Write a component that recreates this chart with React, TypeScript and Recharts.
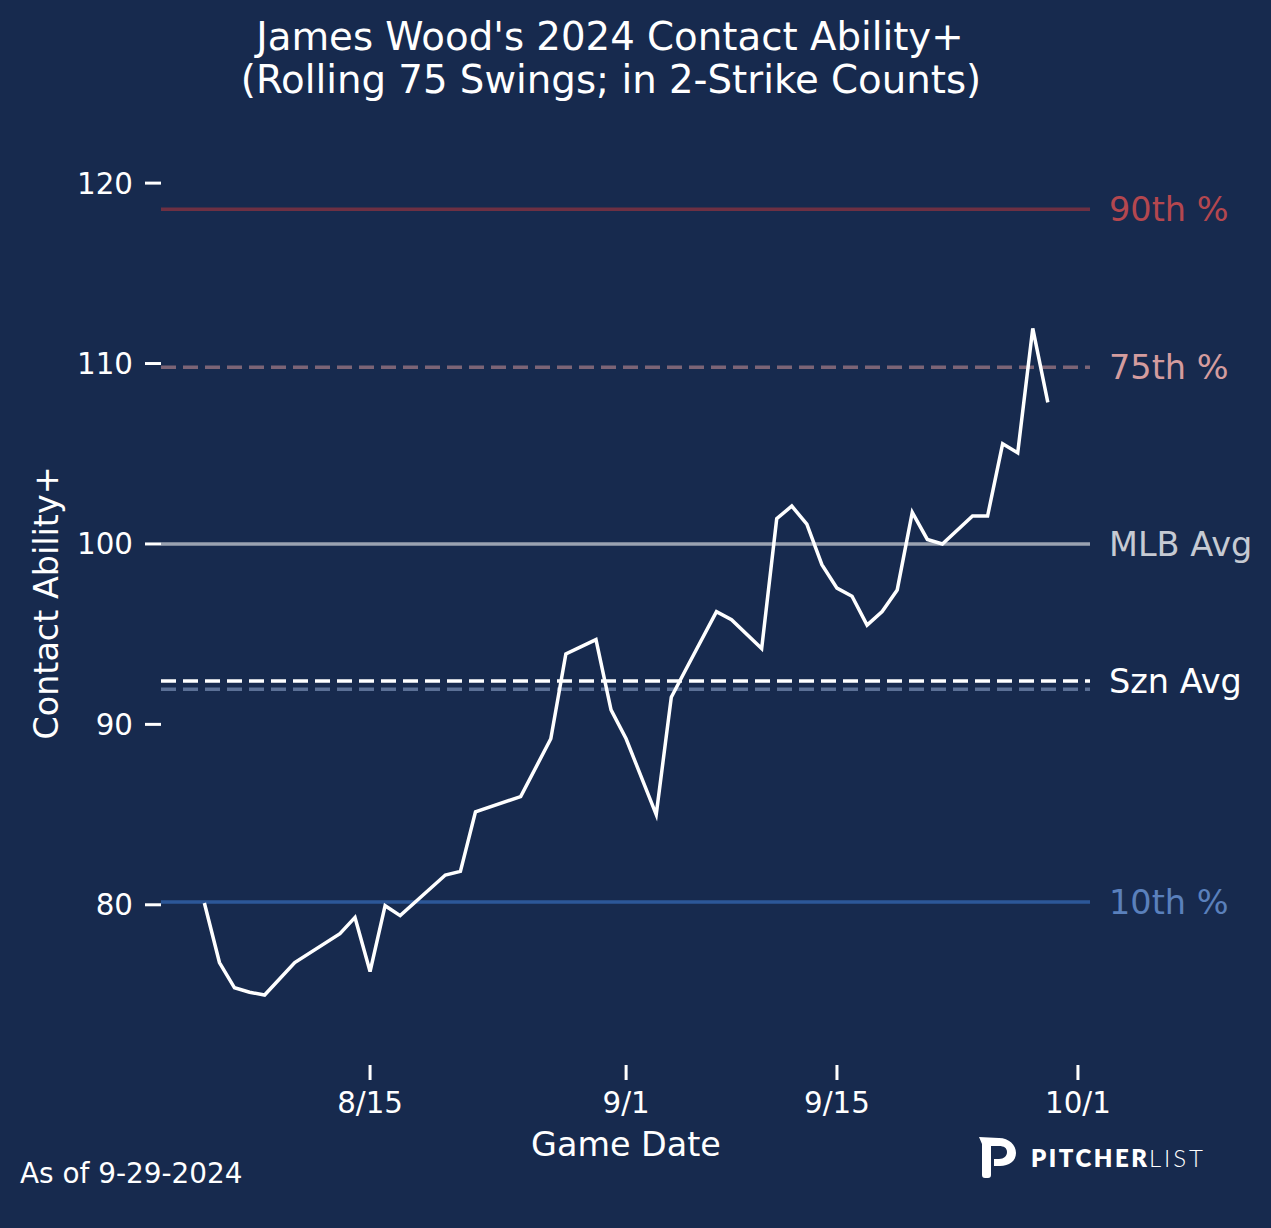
import React from 'react';
import { LineChart, Line, XAxis, YAxis, ReferenceLine } from 'recharts';

// game dates (m/d) and rolling Contact Ability+ values
const gameDates = [
  '8/4', '8/5', '8/6', '8/7', '8/8', '8/10', '8/13', '8/14', '8/15', '8/16',
  '8/17', '8/20', '8/21', '8/22', '8/25', '8/27', '8/28', '8/30', '8/31', '9/1',
  '9/3', '9/4', '9/5', '9/7', '9/8', '9/10', '9/11', '9/12', '9/13', '9/14',
  '9/15', '9/16', '9/17', '9/18', '9/19', '9/20', '9/21', '9/22', '9/24', '9/25',
  '9/26', '9/27', '9/28', '9/29',
];
const contactPlus = [
  80.1, 76.8, 75.4, 75.15, 75.0, 76.8, 78.4, 79.3, 76.3, 79.95,
  79.4, 81.65, 81.85, 85.15, 86.0, 89.2, 93.9, 94.7, 90.8, 89.2,
  85.0, 91.5, 93.1, 96.25, 95.8, 94.2, 101.4, 102.1, 101.1, 98.85,
  97.55, 97.1, 95.5, 96.25, 97.45, 101.75, 100.25, 100.0, 101.55, 101.55,
  105.55, 105.05, 111.95, 107.85,
];

const xTickLabels = ['8/15', '9/1', '9/15', '10/1'];
const yTicks = [80, 90, 100, 110, 120];

const pct90 = 118.55;
const pct75 = 109.8;
const mlbAvg = 100;
const seasonAvg = 92.4;
const seasonAvgAll = 91.95;
const pct10 = 80.15;

const BG = '#172A4E';
const FONT = 'DejaVu Sans';

// days since Aug 1
const toDay = (s: string) => {
  const [m, d] = s.split('/').map(Number);
  if (m === 8) return d - 1;
  if (m === 9) return 30 + d;
  return 60 + d;
};

const data = gameDates.map((g, i) => ({ day: toDay(g), value: contactPlus[i] }));
const xTicks = xTickLabels.map(toDay);

const refLabel = (value: string, fill: string) => ({
  value,
  position: 'right' as const,
  offset: 19,
  fill,
  fontSize: 33.5,
  fontFamily: FONT,
});

export default function App() {
  return (
    <div style={{ position: 'absolute', left: 0, top: 0, width: 1271, height: 1228, background: BG, fontFamily: FONT }}>
      <LineChart
        width={1271}
        height={1228}
        data={data}
        margin={{ top: 162, right: 181, bottom: 103, left: 81 }}
      >
        <XAxis
          dataKey="day"
          type="number"
          domain={[0.12, 61.8]}
          ticks={xTicks}
          tickFormatter={(v: number) => xTickLabels[xTicks.indexOf(v)]}
          axisLine={false}
          tickLine={{ stroke: '#ffffff', strokeWidth: 3 }}
          tickSize={15}
          tickMargin={12}
          height={60}
          tick={{ fill: '#ffffff', fontSize: 29.3, fontFamily: FONT }}
          allowDataOverflow
        />
        <YAxis
          type="number"
          domain={[71.12, 121.17]}
          ticks={yTicks}
          axisLine={false}
          tickLine={{ stroke: '#ffffff', strokeWidth: 3 }}
          tickSize={16}
          tickMargin={12}
          width={80}
          tick={{ fill: '#ffffff', fontSize: 29.3, fontFamily: FONT }}
          allowDataOverflow
        />
        <ReferenceLine y={pct90} stroke="#6E3043" strokeWidth={3.5} label={refLabel('90th %', '#B4474F')} />
        <ReferenceLine y={pct75} stroke="#7C6476" strokeWidth={3.5} strokeDasharray="15 7" label={refLabel('75th %', '#D49C9E')} />
        <ReferenceLine y={mlbAvg} stroke="#9AA2B1" strokeWidth={3.5} label={refLabel('MLB Avg', '#C6CAD3')} />
        <ReferenceLine y={seasonAvgAll} stroke="#5B7096" strokeWidth={3.5} strokeDasharray="15 7" />
        <ReferenceLine y={seasonAvg} stroke="#ffffff" strokeWidth={3.5} strokeDasharray="15 7" label={refLabel('Szn Avg', '#ffffff')} />
        <ReferenceLine y={pct10} stroke="#2C5798" strokeWidth={3.5} label={refLabel('10th %', '#5A80BC')} />
        <Line
          type="linear"
          dataKey="value"
          stroke="#ffffff"
          strokeWidth={3.5}
          dot={false}
          isAnimationActive={false}
        />
      </LineChart>

      <svg width={1271} height={1228} style={{ position: 'absolute', left: 0, top: 0, pointerEvents: 'none' }}>
        <g fill="#ffffff" fontFamily={FONT} textAnchor="middle">
          <text x={610} y={50} fontSize={38.7}>James Wood's 2024 Contact Ability+</text>
          <text x={611} y={93} fontSize={38.7}>(Rolling 75 Swings; in 2-Strike Counts)</text>
          <text x={626} y={1156} fontSize={33.4}>Game Date</text>
          <text x={58} y={603} fontSize={33.4} transform="rotate(-90 58 603)">Contact Ability+</text>
        </g>
        <text x={20} y={1183} fill="#ffffff" fontFamily={FONT} fontSize={27.9}>As of 9-29-2024</text>
        {/* pitcherlist mark */}
        <path
          fill="#ffffff"
          d="M979 1137 L999 1138 C1009 1138 1016 1145 1016 1153 C1016 1161 1009 1166 1000 1166 L994 1166 L994 1159 L999 1159 C1004 1159 1007 1156 1007 1152 C1007 1148 1004 1146 999 1146 L991 1146 L991 1175 C991 1177 990 1178 988 1178 L985 1178 C983 1178 982 1177 982 1175 L982 1144 Z"
        />
        <text x={1031} y={1167} fill="#ffffff" fontFamily="Lato" fontWeight={800} fontSize={24} textLength={116} lengthAdjust="spacing">PITCHER</text>
        <text x={1149} y={1167} fill="#ffffff" fontFamily="Lato" fontWeight={300} fontSize={24} textLength={54} lengthAdjust="spacing">LIST</text>
      </svg>
    </div>
  );
}
